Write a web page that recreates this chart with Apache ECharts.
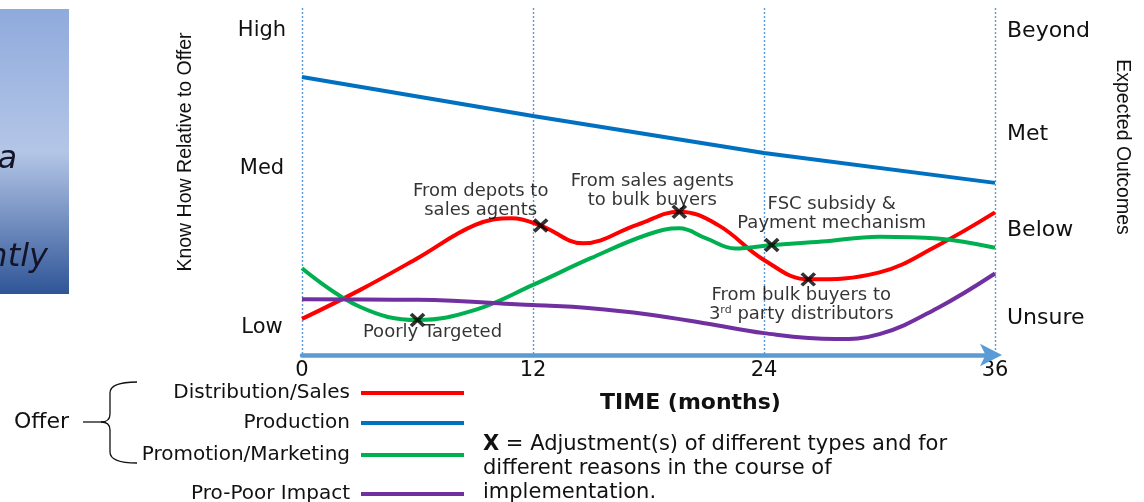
<!DOCTYPE html>
<html>
<head>
<meta charset="utf-8">
<title>Offer adjustments over time</title>
<script src="https://cdn.jsdelivr.net/npm/echarts@6/dist/echarts.min.js"></script>
<style>
  html, body { margin: 0; padding: 0; background: #fff; }
  #chart { width: 1144px; height: 502px; }
</style>
</head>
<body>
<div id="chart"></div>
<script>
// Time axis (months) and ticks
const monthTicks = [0, 12, 24, 36];

// Left scale: how well the offer is known
const knowLevels = ['Low', 'Med', 'High'];
const knowLevelValues = [8.0, 53.6, 93.4];

// Right scale: expected outcomes
const outcomeLevels = ['Unsure', 'Below', 'Met', 'Beyond'];
const outcomeLevelValues = [10.6, 36.0, 63.7, 93.4];

// Distribution/Sales
const salesMonths = [0, 3, 6, 9, 10.9, 12.4, 14.6, 17.4, 19.6, 21.6, 24, 26.3, 30, 33, 36];
const salesValues = [10.4, 18.7, 27.9, 37.5, 39.4, 37.3, 32.2, 37.5, 41.3, 37.5, 27.4, 21.8, 23.8, 31.5, 41.1];

// Production
const productionMonths = [0, 12, 24, 36];
const productionValues = [80.1, 68.9, 58.2, 49.6];

// Promotion/Marketing
const promoMonths = [0, 3, 6, 9, 12, 15, 18, 19.6, 21, 22.5, 24.4, 27, 30, 33, 36];
const promoValues = [25.0, 13.9, 10.1, 13.0, 20.2, 27.9, 34.8, 36.5, 33.6, 30.7, 31.7, 32.7, 34.1, 33.6, 30.9];

// Pro-Poor Impact
const impactMonths = [0, 6, 12, 15, 18, 21, 24, 27.7, 30, 33, 36];
const impactValues = [16.1, 15.9, 14.4, 13.5, 11.7, 9.1, 6.3, 4.6, 6.0, 13.5, 23.5];

// Adjustment points (X) and their notes
const adjMonths = [6.0, 12.4, 19.6, 24.4, 26.3];
const adjValues = [10.1, 37.3, 41.3, 31.7, 21.8];
const adjNotes = [
  '{t|Poorly Targeted}',
  '{t|From depots to}\n{t|sales agents}',
  '{t|From sales agents}\n{t|to bulk buyers}',
  '{t|FSC subsidy &}\n{t|Payment mechanism}',
  '{t|From bulk buyers to}\n{t|3}{sup|rd}{t| party distributors}'
];

const seriesNames = ['Distribution/Sales', 'Production', 'Promotion/Marketing', 'Pro-Poor Impact'];
const seriesColors = ['#FF0000', '#0070C0', '#00B050', '#7030A0'];

// where each note sits relative to its X
const noteOffsets = [[15, 12], [-60, -25], [-27, -21], [60, -31], [-7, 25]];

const pairs = (xs, ys) => xs.map((x, i) => [x, ys[i]]);
const lineData = [
  pairs(salesMonths, salesValues),
  pairs(productionMonths, productionValues),
  pairs(promoMonths, promoValues),
  pairs(impactMonths, impactValues)
];

const FONT = "'DejaVu Sans', sans-serif";
const SIDE_FONT = "'Liberation Sans', Arial, sans-serif";

const lineSeries = seriesNames.map((name, i) => ({
  name: name,
  type: 'line',
  data: lineData[i],
  smooth: i === 1 ? false : 0.4,
  showSymbol: false,
  symbol: 'none',
  color: seriesColors[i],
  lineStyle: { width: 4, color: seriesColors[i] },
  z: 3
}));

const adjSeries = {
  name: 'Adjustments',
  type: 'scatter',
  symbol: 'path://M0,0L10,10M10,0L0,10',
  symbolSize: [13, 12],
  itemStyle: { color: 'rgba(0,0,0,0)', borderColor: '#000', borderWidth: 3.6 },
  z: 5,
  data: adjMonths.map((m, i) => ({
    value: [m, adjValues[i]],
    label: {
      show: true,
      position: 'inside',
      offset: noteOffsets[i],
      align: 'center',
      verticalAlign: 'middle',
      color: '#000',
      textBorderWidth: 0,
      formatter: adjNotes[i],
      rich: {
        t: { fontFamily: FONT, fontSize: 18, color: '#000', lineHeight: 19 },
        sup: { fontFamily: FONT, fontSize: 11, color: '#000', lineHeight: 19, padding: [0, 0, 8, 0] }
      }
    }
  }))
};

const legendTops = [382, 412, 444, 483];
const legends = seriesNames.map((name, i) => ({
  data: [name],
  right: 680,
  top: legendTops[i],
  align: 'right',
  orient: 'vertical',
  padding: 0,
  icon: 'rect',
  itemWidth: 103,
  itemHeight: 4,
  selectedMode: false,
  textStyle: { fontFamily: FONT, fontSize: 20, color: '#111', lineHeight: 22, padding: [0, 6, 0, 0] }
}));

// curly brace grouping the first three legend entries
const brace = { stroke: '#111', lineWidth: 1.3, fill: 'none' };
const braceParts = [
  { type: 'bezierCurve', shape: { x1: 137, y1: 382, cpx1: 110, cpy1: 382, x2: 110, y2: 393 }, style: brace },
  { type: 'line', shape: { x1: 110, y1: 393, x2: 110, y2: 414 }, style: brace },
  { type: 'bezierCurve', shape: { x1: 110, y1: 414, cpx1: 110, cpy1: 422, x2: 101, y2: 422 }, style: brace },
  { type: 'bezierCurve', shape: { x1: 101, y1: 422, cpx1: 110, cpy1: 422, x2: 110, y2: 430 }, style: brace },
  { type: 'line', shape: { x1: 110, y1: 430, x2: 110, y2: 452 }, style: brace },
  { type: 'bezierCurve', shape: { x1: 110, y1: 452, cpx1: 110, cpy1: 463, x2: 137, y2: 463 }, style: brace },
  { type: 'line', shape: { x1: 83, y1: 422, x2: 101, y2: 422 }, style: brace }
];

const option = {
  animation: false,
  backgroundColor: '#fff',
  grid: { left: 302, right: 149, top: 8, bottom: 147 },
  xAxis: {
    type: 'value',
    min: monthTicks[0],
    max: monthTicks[monthTicks.length - 1],
    interval: 12,
    name: 'TIME (months)',
    nameLocation: 'middle',
    nameGap: 37,
    nameTextStyle: { fontFamily: FONT, fontSize: 22, fontWeight: 'bold', color: '#111', padding: [0, 0, 0, 84] },
    axisLine: {
      show: true,
      symbol: ['none', 'arrow'],
      symbolSize: [17, 22],
      symbolOffset: [0, 7],
      lineStyle: { color: '#5B9BD5', width: 4.5 }
    },
    axisTick: { show: false },
    axisLabel: { fontFamily: FONT, fontSize: 21, color: '#111', margin: 5 },
    splitLine: { show: true, lineStyle: { type: [2, 2], color: '#5B9BD5', width: 1.4 } }
  },
  yAxis: [
    {
      type: 'value',
      position: 'left',
      min: 0,
      max: 100,
      axisLine: { show: false },
      axisTick: { show: false },
      splitLine: { show: false },
      axisLabel: {
        customValues: knowLevelValues,
        formatter: v => knowLevels[knowLevelValues.indexOf(v)] || '',
        fontFamily: FONT, fontSize: 21, color: '#111',
        align: 'center', margin: 40
      }
    },
    {
      type: 'value',
      position: 'right',
      min: 0,
      max: 100,
      axisLine: { show: false },
      axisTick: { show: false },
      splitLine: { show: false },
      axisLabel: {
        customValues: outcomeLevelValues,
        formatter: v => outcomeLevels[outcomeLevelValues.indexOf(v)] || '',
        fontFamily: FONT, fontSize: 22, color: '#111',
        align: 'left', margin: 12
      }
    }
  ],
  legend: legends,
  series: lineSeries.concat([adjSeries]),
  graphic: [
    {
      type: 'rect',
      shape: { x: 0, y: 9, width: 69, height: 285 },
      style: {
        fill: {
          type: 'linear', x: 0, y: 0, x2: 0, y2: 1,
          colorStops: [
            { offset: 0, color: '#8FAADC' },
            { offset: 0.5, color: '#B4C6E7' },
            { offset: 1, color: '#2F5597' }
          ]
        }
      },
      z: 1
    },
    {
      type: 'text', x: 17, y: 160,
      style: { text: 'a', fontFamily: FONT, fontStyle: 'italic', fontSize: 32, fill: '#141428', align: 'right', verticalAlign: 'middle' },
      z: 2
    },
    {
      type: 'text', x: 48, y: 258,
      style: { text: 'ntly', fontFamily: FONT, fontStyle: 'italic', fontSize: 32, fill: '#141428', align: 'right', verticalAlign: 'middle' },
      z: 2
    },
    {
      type: 'text', x: 186, y: 152, rotation: Math.PI / 2,
      style: { text: 'Know How Relative to Offer', fontFamily: SIDE_FONT, fontSize: 19.5, fill: '#111', align: 'center', verticalAlign: 'middle' }
    },
    {
      type: 'text', x: 1122, y: 147, rotation: -Math.PI / 2,
      style: { text: 'Expected Outcomes', fontFamily: SIDE_FONT, fontSize: 19.5, fill: '#111', align: 'center', verticalAlign: 'middle' }
    },
    {
      type: 'text', x: 14, y: 422,
      style: { text: 'Offer', fontFamily: FONT, fontSize: 22, fill: '#111', align: 'left', verticalAlign: 'middle' }
    }
  ].concat(braceParts).concat([
    {
      type: 'text', x: 483, y: 433,
      style: {
        text: '{b|X} = Adjustment(s) of different types and for\ndifferent reasons in the course of\nimplementation.',
        fontFamily: FONT, fontSize: 21, fill: '#111', lineHeight: 24,
        rich: { b: { fontFamily: FONT, fontSize: 21, fontWeight: 'bold', fill: '#111', lineHeight: 24 } }
      }
    }
  ])
};

const chart = echarts.init(document.getElementById('chart'), null, { renderer: 'canvas' });
chart.setOption(option);
</script>
</body>
</html>
